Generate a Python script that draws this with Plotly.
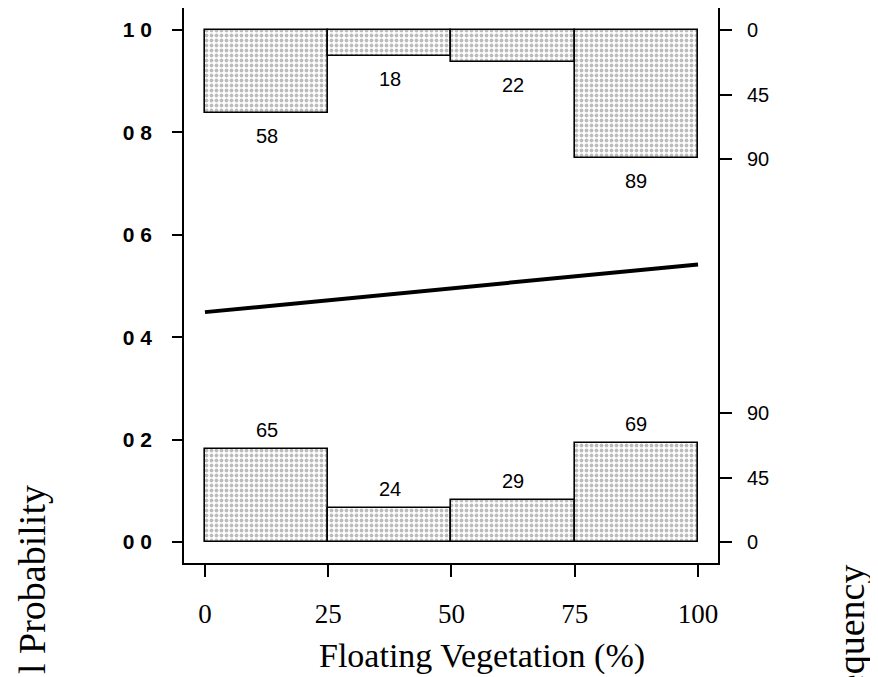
import plotly.graph_objects as go

# histogram bins along floating vegetation (%)
bin_centers = [12.5, 37.5, 62.5, 87.5]
bin_width = 25
counts_present = [58, 18, 22, 89]   # hanging from the top (y = 1)
counts_absent = [65, 24, 29, 69]    # standing on the bottom (y = 0)

# fitted probability curve
curve_x = [0, 25, 50, 75, 100]
curve_y = [0.449, 0.472, 0.495, 0.519, 0.542]

prob_ticks = [0.0, 0.2, 0.4, 0.6, 0.8, 1.0]
prob_ticktext = ["0 0", "0 2", "0 4", "0 6", "0 8", "1 0"]
freq_ticks = [0, 45, 90]
x_ticks = [0, 25, 50, 75, 100]

FREQ_SCALE = 0.0028  # probability units per count
SANS = "Liberation Sans, Arial, sans-serif"
SERIF = "Liberation Serif, Times New Roman, serif"

# page is drawn with an 8px body margin, so the figure is 8px smaller
W, H = 870, 669
FRAME_L, FRAME_R, FRAME_T, FRAME_B = 184, 718, 8, 563   # in page pixels
L, T = FRAME_L - 8, FRAME_T - 8
PW, PH = FRAME_R - FRAME_L, FRAME_B - FRAME_T
R, B = W - L - PW, H - T - PH


def px_x(p):
    return (p - FRAME_L) / PW


def px_y(p):
    return (FRAME_B - p) / PH


bar_style = dict(
    color="white",
    line=dict(color="black", width=1.6),
    pattern=dict(shape=".", fgcolor="#7a7a7a", bgcolor="white", size=5, solidity=0.45),
)

fig = go.Figure()
fig.add_trace(go.Bar(
    x=bin_centers, y=[-c * FREQ_SCALE for c in counts_present], base=1.0,
    width=bin_width, marker=bar_style, showlegend=False, hoverinfo="skip",
))
fig.add_trace(go.Bar(
    x=bin_centers, y=[c * FREQ_SCALE for c in counts_absent], base=0.0,
    width=bin_width, marker=bar_style, showlegend=False, hoverinfo="skip",
))
fig.add_trace(go.Scatter(
    x=curve_x, y=curve_y, mode="lines", line=dict(color="black", width=4),
    showlegend=False, hoverinfo="skip",
))
# invisible trace so the right axis is drawn
fig.add_trace(go.Scatter(x=[None], y=[None], yaxis="y2", showlegend=False))

for xc, c in zip(bin_centers, counts_present):
    fig.add_annotation(x=xc, y=1.0 - c * FREQ_SCALE - 0.045, text=str(c), showarrow=False,
                       xanchor="center", yanchor="middle",
                       font=dict(family=SANS, size=20, color="black"))
for xc, c in zip(bin_centers, counts_absent):
    fig.add_annotation(x=xc, y=c * FREQ_SCALE + 0.037, text=str(c), showarrow=False,
                       xanchor="center", yanchor="middle",
                       font=dict(family=SANS, size=20, color="black"))

fig.add_annotation(xref="paper", yref="paper", x=px_x(482), y=px_y(656),
                   xanchor="center", yanchor="middle",
                   text="Floating Vegetation (%)", showarrow=False,
                   font=dict(family=SERIF, size=34, color="black"))
fig.add_annotation(xref="paper", yref="paper", x=px_x(32), y=px_y(580),
                   xanchor="center", yanchor="middle",
                   text="l Probability", textangle=-90, showarrow=False,
                   font=dict(family=SERIF, size=38, color="black"))
fig.add_annotation(xref="paper", yref="paper", x=px_x(851), y=px_y(645),
                   xanchor="center", yanchor="middle",
                   text="Frequency", textangle=-90, showarrow=False,
                   font=dict(family=SERIF, size=38, color="black"))

y_range = [-0.041, 1.043]
freq_vals = [1.0 - f * FREQ_SCALE for f in freq_ticks] + [f * FREQ_SCALE for f in freq_ticks]
freq_text = [str(f) for f in freq_ticks] * 2

fig.update_layout(
    width=W, height=H,
    margin=dict(l=L, r=R, t=T, b=B, autoexpand=False),
    paper_bgcolor="white", plot_bgcolor="white",
    barmode="overlay", bargap=0,
    xaxis=dict(
        range=[-4.25, 104.05], tickvals=x_ticks, ticks="outside", ticklen=12, tickwidth=1.5,
        tickcolor="black", showline=True, mirror=True, linecolor="black", linewidth=1.6,
        showgrid=False, zeroline=False, ticklabelstandoff=14, automargin=False,
        tickfont=dict(family=SERIF, size=27, color="black"),
    ),
    yaxis=dict(
        range=y_range, tickvals=prob_ticks, ticktext=prob_ticktext, ticks="outside",
        ticklen=10, tickwidth=1.5, tickcolor="black", showline=True, mirror=True,
        linecolor="black", linewidth=1.6, showgrid=False, zeroline=False,
        ticklabelstandoff=16, automargin=False,
        tickfont=dict(family=SANS, size=21, color="black", weight="bold"),
    ),
    yaxis2=dict(
        overlaying="y", side="right", range=y_range, tickvals=freq_vals, ticktext=freq_text,
        ticks="outside", ticklen=13, tickwidth=1.5, tickcolor="black", showline=False,
        showgrid=False, zeroline=False, ticklabelstandoff=11, automargin=False,
        tickfont=dict(family=SANS, size=20, color="black"),
    ),
)

fig.write_html("out.html")
